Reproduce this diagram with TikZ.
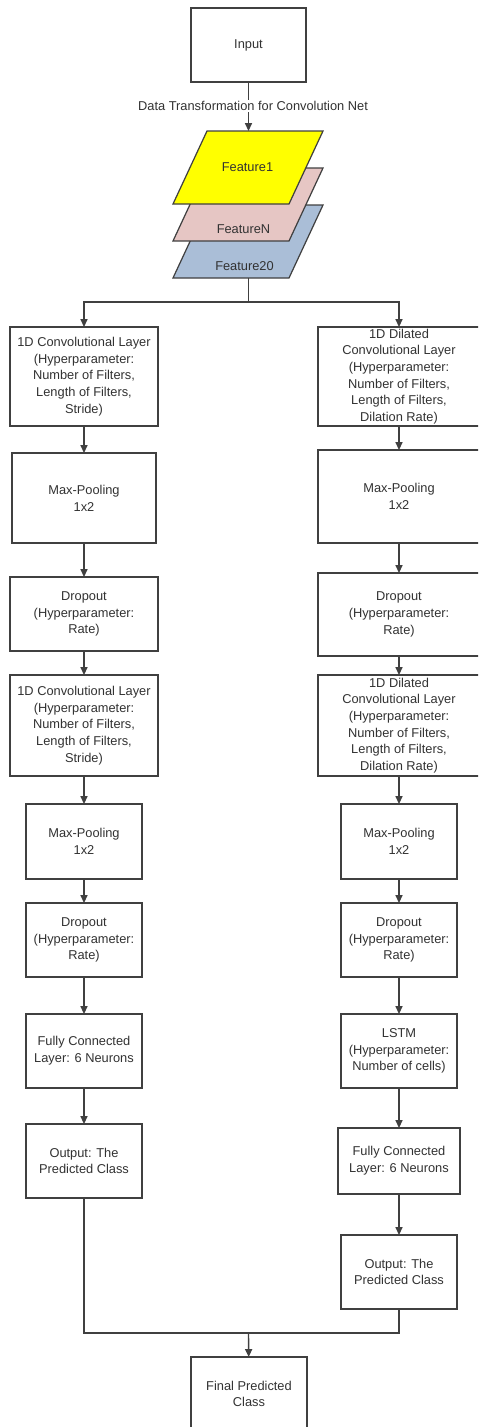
\documentclass[tikz,border=0pt]{standalone}
\usepackage{fontspec}
\setmainfont{Liberation Sans}
\usetikzlibrary{arrows.meta}
\definecolor{linegray}{RGB}{64,64,64}
\definecolor{textgray}{RGB}{50,50,50}
\definecolor{featyellow}{RGB}{255,255,0}
\definecolor{featpink}{RGB}{230,198,196}
\definecolor{featblue}{RGB}{170,190,215}

\begin{document}
\begin{tikzpicture}[x=0.02cm, y=-0.02cm,
				   every node/.style={font=\fontsize{7.3}{9.5}\selectfont, text=textgray, align=center, inner sep=0pt, outer sep=0pt},
				   box/.style={draw=linegray, line width=0.8pt, fill=white},
				   arrow/.style={draw=linegray, line width=0.8pt, -{Triangle[width=4pt,length=4.5pt]}},
				   link/.style={draw=linegray, line width=0.8pt},
				   feature/.style={draw=linegray, line width=0.7pt}]
\clip (0,0) rectangle (478,1427);

% input and feature maps
\node[box, minimum width=2.3cm, minimum height=1.48cm] (input) at (248.5,45) {Input};
\draw[feature, fill=featblue] (173,278) -- (289,278) -- (323,205) -- (207,205) -- cycle;
\draw[feature, fill=featpink] (173,241) -- (289,241) -- (323,168) -- (207,168) -- cycle;
\draw[feature, fill=featyellow] (173,204) -- (289,204) -- (323,131) -- (207,131) -- cycle;
\node (f1) at (247.5,167) {Feature1};
\node (fN) at (243.5,229) {FeatureN};
\node (f20) at (244.5,266) {Feature20};
\coordinate (f1top) at (248.5,131);
\coordinate (f20bot) at (248.5,278);
\coordinate (split) at (248.5,302);
\coordinate (merge) at (248.5,1333);

% left column
\node[box, minimum width=2.96cm, minimum height=1.98cm] (lconv1) at (84,376.5)
	{1D Convolutional Layer\\(Hyperparameter:\\Number of Filters,\\Length of Filters,\\Stride)};
\node[box, minimum width=2.88cm, minimum height=1.8cm] (lpool1) at (84,498) {Max-Pooling\\1x2};
\node[box, minimum width=2.96cm, minimum height=1.48cm] (ldrop1) at (84,614) {Dropout\\(Hyperparameter:\\Rate)};
\node[box, minimum width=2.96cm, minimum height=2.02cm] (lconv2) at (84,725.5)
	{1D Convolutional Layer\\(Hyperparameter:\\Number of Filters,\\Length of Filters,\\Stride)};
\node[box, minimum width=2.32cm, minimum height=1.5cm] (lpool2) at (84,841.5) {Max-Pooling\\1x2};
\node[box, minimum width=2.32cm, minimum height=1.48cm] (ldrop2) at (84,940) {Dropout\\(Hyperparameter:\\Rate)};
\node[box, minimum width=2.32cm, minimum height=1.48cm] (lfc) at (84,1051) {Fully Connected\\Layer: 6 Neurons};
\node[box, minimum width=2.32cm, minimum height=1.48cm] (lout) at (84,1161) {Output: The\\Predicted Class};

% right column
\node[box, minimum width=3.24cm, minimum height=1.98cm] (rconv1) at (399,376.5)
	{1D Dilated\\Convolutional Layer\\(Hyperparameter:\\Number of Filters,\\Length of Filters,\\Dilation Rate)};
\node[box, minimum width=3.24cm, minimum height=1.86cm] (rpool1) at (399,496.5) {Max-Pooling\\1x2};
\node[box, minimum width=3.24cm, minimum height=1.66cm] (rdrop1) at (399,614.5) {Dropout\\(Hyperparameter:\\Rate)};
\node[box, minimum width=3.24cm, minimum height=2.02cm] (rconv2) at (399,725.5)
	{1D Dilated\\Convolutional Layer\\(Hyperparameter:\\Number of Filters,\\Length of Filters,\\Dilation Rate)};
\node[box, minimum width=2.32cm, minimum height=1.5cm] (rpool2) at (399,841.5) {Max-Pooling\\1x2};
\node[box, minimum width=2.32cm, minimum height=1.48cm] (rdrop2) at (399,940) {Dropout\\(Hyperparameter:\\Rate)};
\node[box, minimum width=2.32cm, minimum height=1.48cm] (rlstm) at (399,1051) {LSTM\\(Hyperparameter:\\Number of cells)};
\node[box, minimum width=2.44cm, minimum height=1.32cm] (rfc) at (399,1161) {Fully Connected\\Layer: 6 Neurons};
\node[box, minimum width=2.32cm, minimum height=1.48cm] (rout) at (399,1272) {Output: The\\Predicted Class};

\node[box, minimum width=2.32cm, minimum height=1.48cm] (final) at (249,1394) {Final Predicted\\Class};

% connectors
\draw[arrow] (input) -- (f1top);
\node[fill=white, inner sep=1pt] (transform) at (253,106) {Data Transformation for Convolution Net};
\draw[link] (f20bot) -- (split);
\draw[arrow] (split) -| (lconv1);
\draw[arrow] (split) -| (rconv1);
\draw[arrow] (lconv1) -- (lpool1);
\draw[arrow] (lpool1) -- (ldrop1);
\draw[arrow] (ldrop1) -- (lconv2);
\draw[arrow] (lconv2) -- (lpool2);
\draw[arrow] (lpool2) -- (ldrop2);
\draw[arrow] (ldrop2) -- (lfc);
\draw[arrow] (lfc) -- (lout);
\draw[arrow] (rconv1) -- (rpool1);
\draw[arrow] (rpool1) -- (rdrop1);
\draw[arrow] (rdrop1) -- (rconv2);
\draw[arrow] (rconv2) -- (rpool2);
\draw[arrow] (rpool2) -- (rdrop2);
\draw[arrow] (rdrop2) -- (rlstm);
\draw[arrow] (rlstm) -- (rfc);
\draw[arrow] (rfc) -- (rout);
\draw[link] (lout) |- (merge);
\draw[link] (rout) |- (merge);
\draw[arrow] (merge) -- (final);
\end{tikzpicture}
\end{document}
